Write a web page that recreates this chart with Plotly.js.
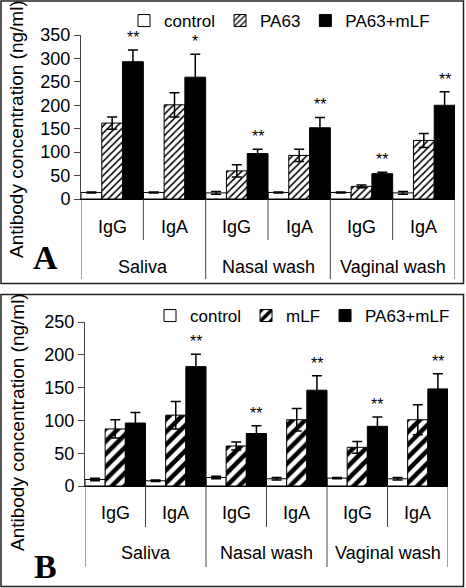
<!DOCTYPE html>
<html><head><meta charset="utf-8">
<script src="https://cdn.plot.ly/plotly-3.0.1.min.js"></script>
<style>html,body{margin:0;padding:0;background:#fff}</style>
</head><body><div id="chart" style="width:466px;height:588px"></div>
<script>
// ---- data ----
const groups = ['Saliva', 'Nasal wash', 'Vaginal wash'];
const isotypes = ['IgG', 'IgA', 'IgG', 'IgA', 'IgG', 'IgA'];
const seriesA = ['control', 'PA63', 'PA63+mLF'];
const seriesB = ['control', 'mLF', 'PA63+mLF'];

const controlA = [14, 14, 13, 14, 14, 13];
const controlAErr = [1, 1, 3, 1, 1, 3];
const pa63A = [162, 201, 60, 93, 27, 125];
const pa63AErr = [13, 26, 13, 13, 3, 15];
const pa63mlfA = [293, 260, 97, 152, 54, 200];
const pa63mlfAErr = [25, 49, 9, 22, 3, 29];
const sigA = ['**', '*', '**', '**', '**', '**'];

const controlB = [10, 8, 13, 11, 12, 11];
const controlBErr = [2, 1, 2, 2, 1, 2];
const mlfB = [87, 108, 61, 101, 59, 101];
const mlfBErr = [14, 21, 6, 17, 9, 23];
const pa63mlfB = [96, 182, 80, 146, 91, 148];
const pa63mlfBErr = [16, 19, 12, 22, 14, 23];
const sigB = ['', '**', '**', '**', '**', '**'];

const yTitle = 'Antibody concentration (ng/ml)';
const panelLetters = ['A', 'B'];

// ---- helpers ----
const W = 466, H = 588;
const px = p => p / W;
const py = p => 1 - p / H;
const idx = isotypes.map((_, i) => i);
const FONT = 'Liberation Sans, Arial, sans-serif';

function err(arr) {
  return {type: 'data', array: arr, visible: true, color: '#000', thickness: 1.5, width: 5};
}
const lineStyle = {color: '#000', width: 1};

const traces = [
  {type: 'bar', x: idx, y: controlA, name: seriesA[0], xaxis: 'x', yaxis: 'y', legend: 'legend',
   marker: {color: '#fff', line: lineStyle}, error_y: err(controlAErr)},
  {type: 'bar', x: idx, y: pa63A, name: seriesA[1], xaxis: 'x', yaxis: 'y', legend: 'legend',
   marker: {color: '#fff', line: lineStyle,
     pattern: {shape: '/', fgcolor: '#000', bgcolor: '#fff', size: 5, solidity: 0.3}},
   error_y: err(pa63AErr)},
  {type: 'bar', x: idx, y: pa63mlfA, name: seriesA[2], xaxis: 'x', yaxis: 'y', legend: 'legend',
   marker: {color: '#000', line: lineStyle}, error_y: err(pa63mlfAErr)},

  {type: 'bar', x: idx, y: controlB, name: seriesB[0], xaxis: 'x2', yaxis: 'y2', legend: 'legend2',
   marker: {color: '#fff', line: lineStyle}, error_y: err(controlBErr)},
  {type: 'bar', x: idx, y: mlfB, name: seriesB[1], xaxis: 'x2', yaxis: 'y2', legend: 'legend2',
   marker: {color: '#fff', line: lineStyle,
     pattern: {shape: '/', fgcolor: '#000', bgcolor: '#fff', size: 9, solidity: 0.5}},
   error_y: err(mlfBErr)},
  {type: 'bar', x: idx, y: pa63mlfB, name: seriesB[2], xaxis: 'x2', yaxis: 'y2', legend: 'legend2',
   marker: {color: '#000', line: lineStyle}, error_y: err(pa63mlfBErr)}
];

function xAxis(d0, d1, anchor) {
  return {domain: [px(d0), px(d1)], range: [-0.5, 5.5], anchor: anchor,
    showticklabels: false, ticks: '', showgrid: false, zeroline: false,
    showline: true, linecolor: '#000', linewidth: 1, fixedrange: true};
}
function yAxis(top, bottom, max, anchor) {
  return {domain: [py(bottom), py(top)], range: [0, max], dtick: 50, anchor: anchor,
    ticks: 'outside', ticklen: 6, tickcolor: '#444', tickwidth: 1,
    showline: true, linecolor: '#444', linewidth: 1, showgrid: false, zeroline: false,
    tickfont: {family: FONT, size: 18, color: '#000'}, fixedrange: true};
}

const panels = [
  {xa: 'x', top: 35, zero: 199, inner: 240, outer: 279, isoY: 227, grpY: 267,
   tops: pa63mlfA, errs: pa63mlfAErr, sig: sigA, titleY: 129, letterY: 257},
  {xa: 'x2', top: 322, zero: 486, inner: 527, outer: 567, isoY: 513, grpY: 553,
   tops: pa63mlfB, errs: pa63mlfBErr, sig: sigB, titleY: 422, letterY: 566}
];

const annotations = [];
const shapes = [];
panels.forEach((p, k) => {
  isotypes.forEach((t, i) => {
    annotations.push({x: i, y: py(p.isoY), xref: p.xa, yref: 'paper', text: t, showarrow: false,
      xanchor: 'center', yanchor: 'middle',
      font: {family: FONT, size: 18, color: '#000'}});
    if (p.sig[i]) {
      annotations.push({x: i + 1/3, y: p.tops[i] + p.errs[i], xref: p.xa, yref: p.xa.replace('x', 'y'),
        text: p.sig[i], showarrow: false, xanchor: 'center', yanchor: 'bottom', yshift: 2,
        font: {family: FONT, size: 16, color: '#000'}});
    }
  });
  groups.forEach((g, j) => {
    annotations.push({x: 2 * j + 0.5, y: py(p.grpY), xref: p.xa, yref: 'paper', text: g, showarrow: false,
      xanchor: 'center', yanchor: 'middle',
      font: {family: FONT, size: 18, color: '#000'}});
  });
  [0.5, 2.5, 4.5].forEach(v => shapes.push({type: 'line', xref: p.xa, yref: 'paper',
    x0: v, x1: v, y0: py(p.zero), y1: py(p.inner), line: {color: '#444', width: 1}}));
  [-0.5, 1.5, 3.5, 5.5].forEach(v => shapes.push({type: 'line', xref: p.xa, yref: 'paper',
    x0: v, x1: v, y0: py(p.zero), y1: py(p.outer), line: {color: '#444', width: 1}}));
  annotations.push({x: px(17), y: py(p.titleY), xref: 'paper', yref: 'paper', text: yTitle,
    textangle: -90, showarrow: false, xanchor: 'center', yanchor: 'middle',
    font: {family: FONT, size: 19, color: '#000'}});
  annotations.push({x: px(45), y: py(p.letterY), xref: 'paper', yref: 'paper',
    text: '<b>' + panelLetters[k] + '</b>', showarrow: false, xanchor: 'center', yanchor: 'middle',
    font: {family: 'Liberation Serif, Times New Roman, serif', size: 34, color: '#000'}});
});

shapes.push({type: 'rect', xref: 'paper', yref: 'paper', x0: px(1), x1: px(463.5), y0: py(283.5), y1: py(1),
  line: {color: '#222', width: 1.5}});
shapes.push({type: 'rect', xref: 'paper', yref: 'paper', x0: px(1), x1: px(463.5), y0: py(586.5), y1: py(294.5),
  line: {color: '#222', width: 1.5}});

function legendCfg(x, y) {
  return {orientation: 'h', x: px(x), y: py(y), xanchor: 'left', yanchor: 'top',
    font: {family: FONT, size: 17, color: '#000'}, bgcolor: 'rgba(0,0,0,0)',
    itemwidth: 30, traceorder: 'normal', itemclick: false, itemdoubleclick: false};
}

const layout = {
  width: W, height: H, margin: {l: 0, r: 0, t: 0, b: 0},
  paper_bgcolor: '#fff', plot_bgcolor: 'rgba(0,0,0,0)',
  barmode: 'group', bargap: 0, bargroupgap: 0,
  xaxis: xAxis(81, 455, 'y'), yaxis: yAxis(35, 199, 350, 'x'),
  xaxis2: xAxis(85, 448, 'y2'), yaxis2: yAxis(322, 486, 250, 'x2'),
  legend: legendCfg(124, 3), legend2: legendCfg(150, 298),
  annotations: annotations, shapes: shapes, showlegend: true
};

Plotly.newPlot('chart', traces, layout, {staticPlot: true, displayModeBar: false});
</script></body></html>
